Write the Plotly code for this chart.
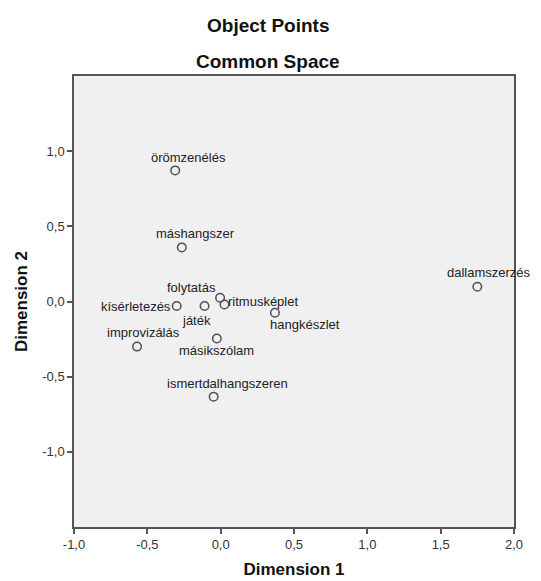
import plotly.graph_objects as go

labels = ["örömzenélés", "máshangszer", "folytatás", "ritmusképlet", "játék",
          "kísérletezés", "hangkészlet", "másikszólam", "improvizálás",
          "ismertdalhangszeren", "dallamszerzés"]
dim1 = [-0.31, -0.265, -0.004, 0.026, -0.11, -0.30, 0.37, -0.026, -0.57, -0.048, 1.75]
dim2 = [0.872, 0.36, 0.025, -0.02, -0.03, -0.03, -0.075, -0.246, -0.30, -0.633, 0.098]

xticks = [-1.0, -0.5, 0.0, 0.5, 1.0, 1.5, 2.0]
yticks = [-1.0, -0.5, 0.0, 0.5, 1.0]

def fmt(v):
    return f"{v:.1f}".replace(".", ",")

FONT = "Liberation Sans, Arial, sans-serif"

# label placement styles (xanchor, xshift, yshift) per point
label_style = [
    ("center", 13, 13), ("center", 14, 14), ("center", -29, 10),
    ("left", 2, 3), ("center", -8, -14), ("right", -4, 0),
    ("center", 30, -12), ("center", 0, -12), ("center", 6, 14),
    ("center", 14, 13), ("center", 12, 14),
]

fig = go.Figure()
fig.add_trace(go.Scatter(
    x=dim1, y=dim2, mode="markers",
    marker=dict(symbol="circle-open", size=8.5, color="#505050", line=dict(width=1.5)),
    hoverinfo="text", text=labels, showlegend=False,
))

for lab, x, y, (xa, xs, ys) in zip(labels, dim1, dim2, label_style):
    fig.add_annotation(x=x, y=y, text=lab, showarrow=False, xanchor=xa, yanchor="middle",
                       xshift=xs, yshift=ys,
                       font=dict(family=FONT, size=13, color="#222"))

fig.add_annotation(text="<b>Object Points</b>", xref="paper", yref="paper", x=0.44, y=1,
                   xanchor="center", yanchor="middle", yshift=51, showarrow=False,
                   font=dict(family=FONT, size=19, color="#111"))
fig.add_annotation(text="<b>Common Space</b>", xref="paper", yref="paper", x=0.44, y=1,
                   xanchor="center", yanchor="middle", yshift=15, showarrow=False,
                   font=dict(family=FONT, size=19, color="#111"))

axis_common = dict(showgrid=False, zeroline=False, showline=True, mirror=True,
                   linecolor="#555", linewidth=1.5, ticks="outside", ticklen=5,
                   tickwidth=1.5, tickcolor="#555",
                   tickfont=dict(family=FONT, size=13, color="#333"))

fig.update_layout(
    width=541, height=581,
    margin=dict(l=57, r=35, t=68, b=62),
    paper_bgcolor="white", plot_bgcolor="#f0f0f0",
    xaxis=dict(range=[-1.0, 2.0], tickvals=xticks, ticktext=[fmt(v) for v in xticks],
               title=dict(text="<b>Dimension 1</b>", standoff=12,
                          font=dict(family=FONT, size=17, color="#111")),
               **axis_common),
    yaxis=dict(range=[-1.5, 1.5], tickvals=yticks, ticktext=[fmt(v) for v in yticks],
               title=dict(text="<b>Dimension 2</b>", standoff=10,
                          font=dict(family=FONT, size=17, color="#111")),
               **axis_common),
)

fig.write_html("out.html")
